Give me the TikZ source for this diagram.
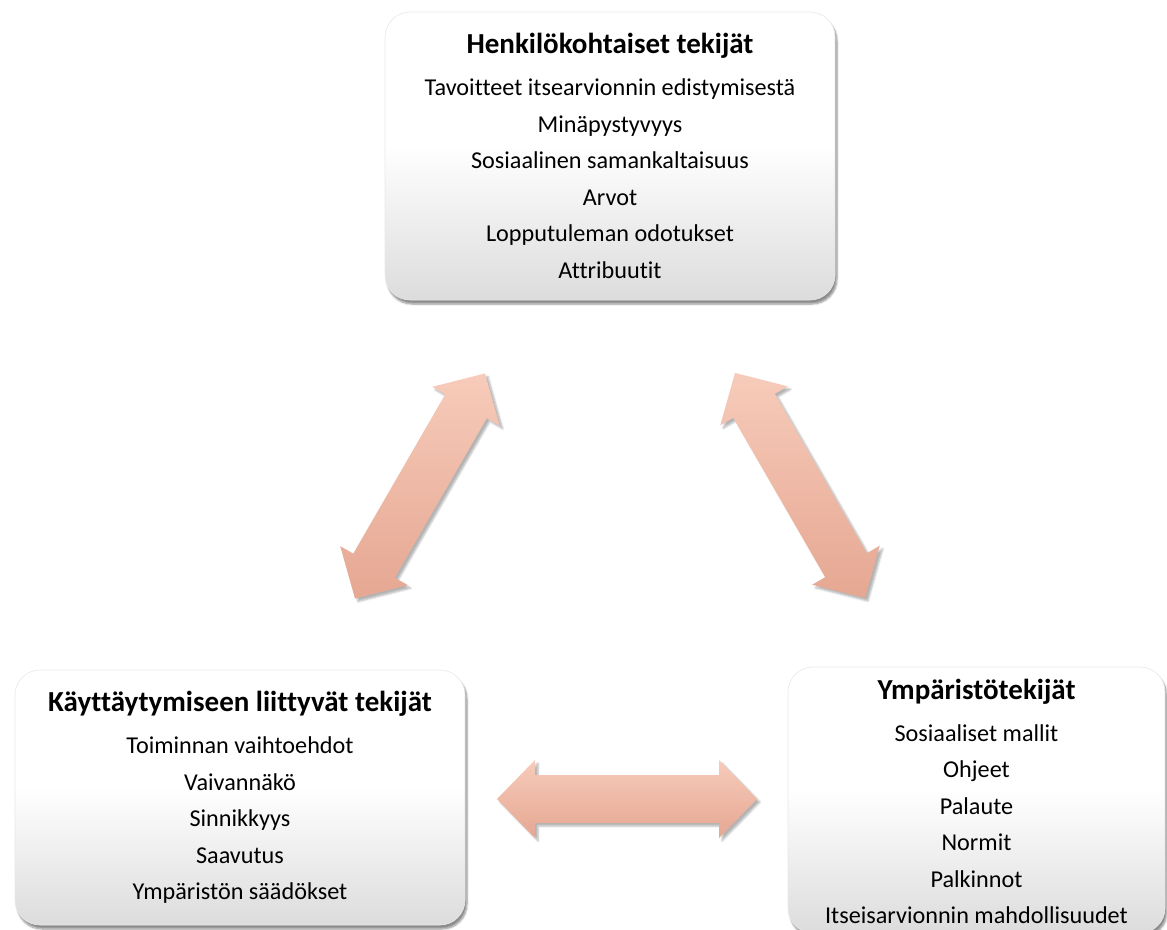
\documentclass[tikz,border=0pt]{standalone}
\usepackage{fontspec}
\setmainfont{Carlito}[Ligatures=NoCommon]
\usetikzlibrary{calc,shadows.blur}

\definecolor{boxbot}{HTML}{DCDCDC}
\definecolor{arrowtop}{HTML}{F7CBBA}
\definecolor{arrowmid}{HTML}{F5BCA6}
\definecolor{arrowbot}{HTML}{E5A792}

% white upper half fading to light grey at the bottom edge
\pgfdeclareverticalshading{boxshade}{100bp}{%
  color(0bp)=(boxbot); color(25bp)=(boxbot); color(52bp)=(white); color(100bp)=(white)}

\tikzset{
  factorbox/.style={rectangle, rounded corners=25pt, shade, shading=boxshade,
    draw=gray!18, line width=0.6pt, inner sep=0pt,
    blur shadow={shadow xshift=2pt, shadow yshift=-4pt, shadow blur steps=6,
      shadow blur extra rounding=3pt, shadow opacity=45}},
  boxtext/.style={align=center, font=\fontsize{24.2}{36.5}\selectfont, inner sep=0pt},
  arrowshade/.style={top color=arrowtop, middle color=arrowmid, bottom color=arrowbot,
    blur shadow={shadow xshift=3pt, shadow yshift=-3pt, shadow blur steps=5,
      shadow opacity=30}},
}
\newcommand\boxtitle[1]{{\fontsize{29}{36.5}\selectfont\bfseries #1}\\[5.5pt]}

% double-headed block arrow: #1 centre, #2 direction angle
\newcommand\blockarrow[2]{%
  \path[arrowshade]
    ($(#1)+(#2:130)$)
    -- ($(#1)+(#2:92)+(#2+90:39)$)
    -- ($(#1)+(#2:92)+(#2+90:24)$)
    -- ($(#1)+(#2+180:92)+(#2+90:24)$)
    -- ($(#1)+(#2+180:92)+(#2+90:39)$)
    -- ($(#1)+(#2+180:130)$)
    -- ($(#1)+(#2+180:92)+(#2-90:39)$)
    -- ($(#1)+(#2+180:92)+(#2-90:24)$)
    -- ($(#1)+(#2:92)+(#2-90:24)$)
    -- ($(#1)+(#2:92)+(#2-90:39)$)
    -- cycle;}

\begin{document}
\begin{tikzpicture}[x=1pt,y=1pt]
  \useasboundingbox (0,0) rectangle (1167,-929);

  % the three factor boxes
  \node[factorbox, minimum width=450pt, minimum height=288pt] (pers) at (610,-156) {};
  \node[factorbox, minimum width=450pt, minimum height=255pt] (beh) at (240,-797.5) {};
  \node[factorbox, minimum width=377pt, minimum height=266pt] (env) at (976.5,-800) {};

  \node[boxtext] (perstext) at (pers.center) {\boxtitle{Henkilökohtaiset tekijät}
    Tavoitteet itsearvionnin edistymisestä\\
    Minäpystyvyys\\
    Sosiaalinen samankaltaisuus\\
    Arvot\\
    Lopputuleman odotukset\\
    Attribuutit};

  \node[boxtext] (behtext) at (beh.center) {\boxtitle{Käyttäytymiseen liittyvät tekijät}
    Toiminnan vaihtoehdot\\
    Vaivannäkö\\
    Sinnikkyys\\
    Saavutus\\
    Ympäristön säädökset};

  \node[boxtext] (envtext) at ([yshift=-1.5pt]env.center) {\boxtitle{Ympäristötekijät}
    Sosiaaliset mallit\\
    Ohjeet\\
    Palaute\\
    Normit\\
    Palkinnot\\
    Itseisarvionnin mahdollisuudet};

  % reciprocal influences between the factors
  \coordinate (pb) at (420,-486);
  \coordinate (pe) at (800,-485.5);
  \coordinate (be) at (627,-799);
  \blockarrow{pb}{60}
  \blockarrow{pe}{-60}
  \blockarrow{be}{0}
\end{tikzpicture}
\end{document}
